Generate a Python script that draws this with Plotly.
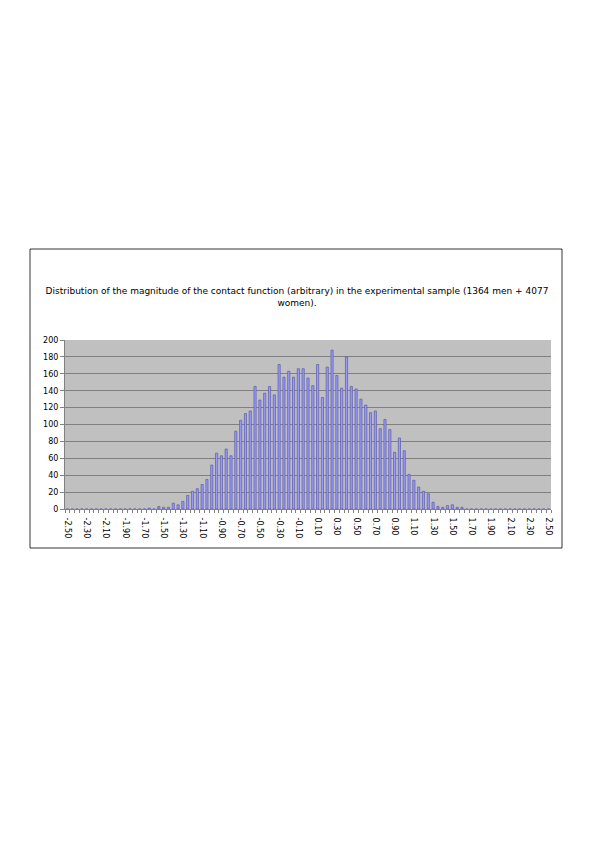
import plotly.graph_objects as go

# Bin centres: -2.50 .. 2.50 in steps of 0.05 (101 categories)
bin_start = -2.50
bin_step = 0.05
n_bins = 101

# Non-zero counts, starting at bin index 17 (-1.65)
first_index = 17
counts_nonzero = [
    1, 0, 3, 2, 2, 7, 5, 9, 16, 21, 24, 29, 35,
    52, 66, 63, 71, 63, 92, 105, 113, 116, 145,
    129, 137, 145, 135, 171, 156, 163, 156, 166, 166,
    155, 146, 171, 132, 168, 188, 158, 143, 180, 145,
    142, 130, 123, 114, 116, 95, 106, 94, 67, 84,
    69, 41, 34, 26, 21, 18, 8, 3, 2, 4, 5, 2, 2,
]

categories = [round(bin_start + bin_step * i, 2) for i in range(n_bins)]
counts = [0] * n_bins
for k, v in enumerate(counts_nonzero):
    counts[first_index + k] = v

tick_values = [round(-2.5 + 0.2 * k, 2) for k in range(26)]
tick_labels = [f"{v:.2f}" for v in tick_values]

title_text = ("Distribution of the magnitude of the contact function (arbitrary) in the "
              "experimental sample (1364 men + 4077<br>women).")

fig = go.Figure()
fig.add_trace(go.Bar(
    x=categories, y=counts,
    marker=dict(color="#9999FF", line=dict(color="#5a5aa8", width=0.7)),
    hoverinfo="x+y",
))

fig.update_layout(
    width=595, height=842,
    margin=dict(l=57, r=52, t=332, b=341),
    paper_bgcolor="white",
    plot_bgcolor="#C0C0C0",
    bargap=0.55,
    showlegend=False,
    font=dict(family="DejaVu Sans", size=8, color="black"),
    title=dict(text=title_text, x=(297 - 8) / 595, xanchor="center", xref="container",
               y=1 - (294 - 8) / 842, yref="container", yanchor="middle",
               font=dict(family="DejaVu Sans", size=9, color="black")),
    shapes=[dict(type="rect", xref="paper", yref="paper",
                 x0=(30 - 65) / 486, x1=(562 - 65) / 486,
                 y0=(509 - 548) / 169, y1=(509 - 249) / 169,
                 line=dict(color="black", width=0.8), fillcolor="rgba(0,0,0,0)",
                 layer="below")],
)

fig.update_xaxes(
    range=[-2.525, 2.525],
    tickmode="array", tickvals=tick_values, ticktext=tick_labels,
    tickangle=90, ticks="outside", ticklen=6, tickcolor="rgba(0,0,0,0)",
    showgrid=False, zeroline=False,
    showline=True, linecolor="#808080", linewidth=1,
    tickfont=dict(size=8, family="DejaVu Sans"),
    minor=dict(ticks="outside", tick0=-2.525, dtick=0.05, ticklen=3,
               tickcolor="#808080", showgrid=False),
)
fig.update_yaxes(
    range=[0, 200], dtick=20, tick0=0,
    showgrid=True, gridcolor="#808080", gridwidth=1,
    zeroline=False, showline=True, linecolor="#808080", linewidth=1,
    ticks="outside", ticklen=4, tickcolor="#808080",
    tickfont=dict(size=8, family="DejaVu Sans"),
)

fig.write_html("out.html")
